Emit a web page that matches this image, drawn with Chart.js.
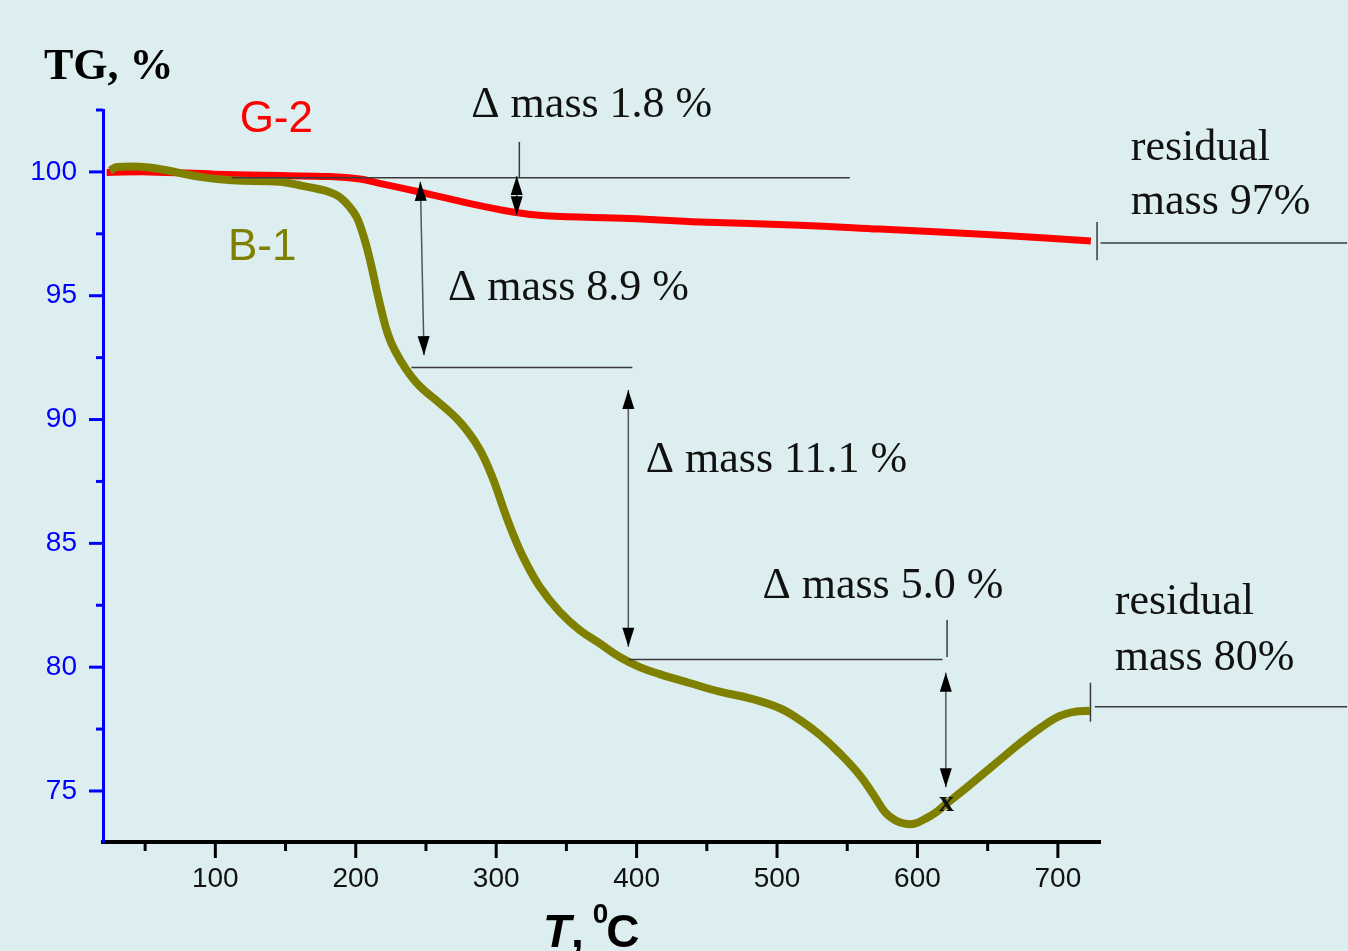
<!DOCTYPE html>
<html>
<head>
<meta charset="utf-8">
<script src="https://cdn.jsdelivr.net/npm/chart.js@4.4.1/dist/chart.umd.min.js"></script>
<style>
  html, body { margin: 0; padding: 0; background: #dceef0; overflow: hidden; }
</style>
</head>
<body>
<canvas id="graphique" width="1348" height="951"></canvas>
<script>
// TG curves: temperature (°C) and mass (%)
const tempG2 = [22.6, 53, 99.5, 146, 181, 203, 217, 245.5, 276, 313, 335, 395, 445, 516, 573, 659, 723.5];
const massG2 = [99.98, 100.0, 99.91, 99.85, 99.81, 99.71, 99.54, 99.19, 98.79, 98.37, 98.23, 98.12, 97.98, 97.85, 97.69, 97.44, 97.21];

const tempB1 = [25, 30, 53, 89, 112, 146, 160, 174, 181, 188.5, 195.6, 200.6, 204.2, 207.8, 211.3,
  214.9, 218.5, 222.7, 227.7, 236.2, 245.5, 259.8, 274, 284.7, 291.8, 298.9, 306, 313.2, 320.3, 331,
  345.2, 359.5, 373.7, 388, 402.2, 416.4, 437.8, 459.2, 480.6, 502, 516.2, 530.4, 544.7, 558.9, 569.6,
  576.7, 583.8, 591, 598.1, 605.2, 612.3, 620.9, 630.1, 644.4, 658.6, 672.9, 687.1, 701.4, 712, 722.7];
const massB1 = [100.05, 100.2, 100.18, 99.8, 99.66, 99.6, 99.46, 99.3, 99.19, 98.99, 98.59, 98.18, 97.65, 96.97, 96.16,
  95.22, 94.35, 93.48, 92.8, 92.0, 91.35, 90.66, 89.91, 89.12, 88.40, 87.43, 86.27, 85.21, 84.32, 83.25,
  82.24, 81.5, 80.96, 80.41, 80.0, 79.72, 79.36, 79.01, 78.74, 78.34, 77.87, 77.27, 76.52, 75.64, 74.77,
  74.16, 73.83, 73.68, 73.68, 73.87, 74.1, 74.5, 74.91, 75.58, 76.25, 76.92, 77.53, 78.03, 78.2, 78.24];

const xTicks = [50, 100, 150, 200, 250, 300, 350, 400, 450, 500, 550, 600, 650, 700];
const yTicks = [75, 77.5, 80, 82.5, 85, 87.5, 90, 92.5, 95, 97.5, 100, 102.5];

// annotations in data units (temperature, mass)
const guideLines = [ // [t1, m1, t2, m2]
  [111.6, 99.76, 551.8, 99.76],
  [239.6, 92.10, 397.0, 92.10],
  [394.4, 80.31, 617.8, 80.31],
  [730.4, 97.13, 906, 97.13],
  [726.3, 78.40, 906, 78.40],
  [316.5, 101.21, 316.5, 99.76],
  [621.1, 81.90, 621.1, 80.41],
  [727.9, 97.98, 727.9, 96.43],
  [723.2, 79.37, 723.2, 77.80]
];
const arrows = [ // double arrows [t1, m1, t2, m2]
  [314.6, 99.83, 314.6, 98.25],
  [246.0, 99.60, 248.6, 92.60],
  [394.1, 91.19, 394.1, 80.82],
  [620.2, 79.77, 620.2, 75.15]
];
const noteTexts = ['Δ mass 1.8 %', 'Δ mass 8.9 %', 'Δ mass 11.1 %', 'Δ mass 5.0 %', 'residual', 'mass 97%', 'residual', 'mass 80%'];
const noteTemps = [282.3, 265.7, 406.5, 489.6, 751.9, 751.9, 740.5, 740.5];
const noteMass = [102.22, 94.82, 87.89, 82.78, 100.50, 98.29, 82.14, 79.88];

const seriesNames = ['G-2', 'B-1'];
const nameTemps = [117.3, 109.0];
const nameMass = [101.61, 96.46];

const coulRouge = '#ff0000';
const coulOlive = '#808000';

function points(t, m) {
  return t.map((v, i) => ({ x: v, y: m[i] }));
}

// ticks, annotations and titles
const decor = {
  id: 'decor',
  afterDatasetsDraw(chart) {
    const ctx = chart.ctx;
    const sx = chart.scales.x, sy = chart.scales.y;
    const px = v => sx.getPixelForValue(v);
    const py = v => sy.getPixelForValue(v);
    const area = chart.chartArea;
    ctx.save();

    // tick marks
    ctx.lineWidth = 3;
    ctx.strokeStyle = '#0000ff';
    yTicks.forEach(v => {
      const len = v % 5 === 0 ? 14 : 7;
      ctx.beginPath();
      ctx.moveTo(area.left - len, py(v));
      ctx.lineTo(area.left, py(v));
      ctx.stroke();
    });
    ctx.strokeStyle = '#000';
    xTicks.forEach(v => {
      const len = v % 100 === 0 ? 16 : 9;
      ctx.beginPath();
      ctx.moveTo(px(v), area.bottom);
      ctx.lineTo(px(v), area.bottom + len);
      ctx.stroke();
    });

    // guide lines
    ctx.lineWidth = 1.5;
    ctx.strokeStyle = '#3a3a3a';
    guideLines.forEach(l => {
      ctx.beginPath();
      ctx.moveTo(px(l[0]), py(l[1]));
      ctx.lineTo(px(l[2]), py(l[3]));
      ctx.stroke();
    });

    // double arrows
    arrows.forEach(a => {
      const x1 = px(a[0]), y1 = py(a[1]), x2 = px(a[2]), y2 = py(a[3]);
      ctx.strokeStyle = '#555';
      ctx.beginPath();
      ctx.moveTo(x1, y1);
      ctx.lineTo(x2, y2);
      ctx.stroke();
      const ang = Math.atan2(y2 - y1, x2 - x1);
      [[x1, y1, ang + Math.PI], [x2, y2, ang]].forEach(h => {
        const hl = 19, hw = 6;
        ctx.fillStyle = '#000';
        ctx.beginPath();
        ctx.moveTo(h[0], h[1]);
        ctx.lineTo(h[0] - hl * Math.cos(h[2]) + hw * Math.sin(h[2]), h[1] - hl * Math.sin(h[2]) - hw * Math.cos(h[2]));
        ctx.lineTo(h[0] - hl * Math.cos(h[2]) - hw * Math.sin(h[2]), h[1] - hl * Math.sin(h[2]) + hw * Math.cos(h[2]));
        ctx.closePath();
        ctx.fill();
      });
    });

    // texts
    ctx.fillStyle = '#111';
    ctx.textBaseline = 'alphabetic';
    ctx.textAlign = 'left';
    ctx.font = '44px "Liberation Serif"';
    noteTexts.forEach((s, i) => ctx.fillText(s, px(noteTemps[i]), py(noteMass[i])));

    ctx.font = 'bold 30px "Liberation Serif"';
    ctx.textAlign = 'center';
    ctx.textBaseline = 'middle';
    ctx.fillText('x', px(620.7), py(74.5));

    ctx.textAlign = 'left';
    ctx.textBaseline = 'alphabetic';
    ctx.font = '44px "Liberation Sans"';
    [coulRouge, coulOlive].forEach((c, i) => {
      ctx.fillStyle = c;
      ctx.fillText(seriesNames[i], px(nameTemps[i]), py(nameMass[i]));
    });

    // axis titles
    ctx.fillStyle = '#000';
    ctx.font = 'bold 44px "Liberation Serif"';
    ctx.fillText('TG, %', 44, 79);

    let x = 543;
    const base = 947;
    ctx.font = 'italic bold 46px "Liberation Sans"';
    ctx.fillText('T', x, base);
    x += ctx.measureText('T').width;
    ctx.font = 'bold 46px "Liberation Sans"';
    ctx.fillText(', ', x, base);
    x += ctx.measureText(', ').width - 4;
    ctx.font = 'bold 28px "Liberation Sans"';
    ctx.fillText('0', x, 923);
    x += ctx.measureText('0').width - 2;
    ctx.font = 'bold 46px "Liberation Sans"';
    ctx.fillText('C', x, base);

    ctx.restore();
  }
};

const ctx = document.getElementById('graphique').getContext('2d');
new Chart(ctx, {
  type: 'line',
  data: {
    datasets: [
      { label: 'B-1', data: points(tempB1, massB1), borderColor: coulOlive, borderWidth: 8 },
      { label: 'G-2', data: points(tempG2, massG2), borderColor: coulRouge, borderWidth: 7 }
    ]
  },
  options: {
    responsive: false,
    animation: false,
    layout: { padding: { top: 110, right: 248, bottom: 0, left: 0 } },
    elements: {
      point: { radius: 0 },
      line: { tension: 0.4, fill: false, borderCapStyle: 'butt' }
    },
    plugins: {
      legend: { display: false },
      title: { display: false },
      tooltip: { enabled: false }
    },
    scales: {
      x: {
        type: 'linear',
        min: 20,
        max: 730,
        afterBuildTicks: s => { s.ticks = xTicks.map(v => ({ value: v })); },
        afterFit: s => { s.height = 109; },
        grid: { display: false },
        border: { display: true, color: '#000', width: 4 },
        ticks: {
          autoSkip: false,
          maxRotation: 0,
          padding: 12,
          color: '#111',
          font: { family: 'Liberation Sans', size: 28 },
          callback: v => (v % 100 === 0 ? String(v) : '')
        }
      },
      y: {
        type: 'linear',
        min: 72.94,
        max: 102.5,
        afterBuildTicks: s => { s.ticks = yTicks.map(v => ({ value: v })); },
        afterFit: s => { s.width = 103; },
        grid: { display: false },
        border: { display: true, color: '#0000ff', width: 3 },
        ticks: {
          autoSkip: false,
          padding: 18,
          color: '#0000ff',
          font: { family: 'Liberation Sans', size: 28 },
          callback: v => (v % 5 === 0 ? String(v) : '')
        }
      }
    }
  },
  plugins: [decor]
});
</script>
</body>
</html>
